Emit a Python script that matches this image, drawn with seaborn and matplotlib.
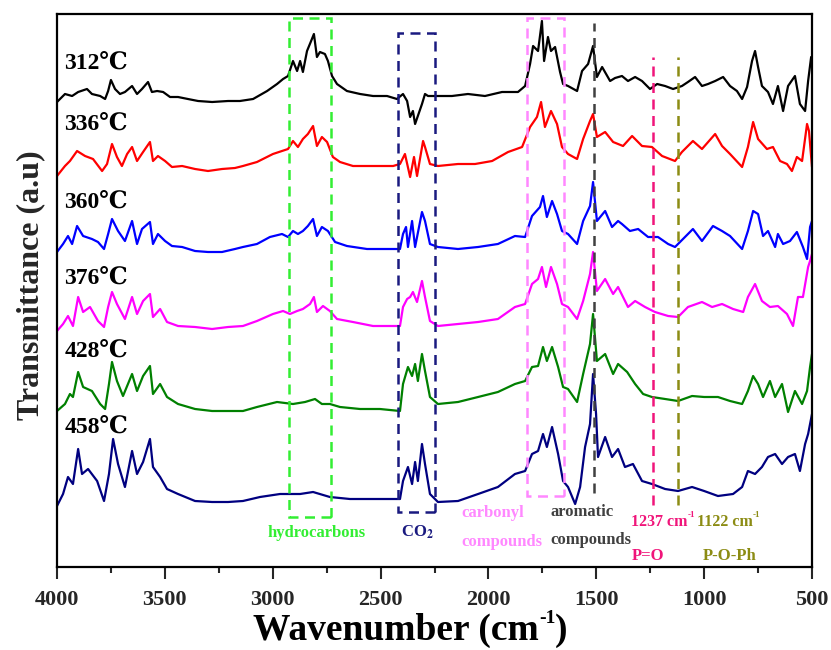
import numpy as np
import pandas as pd
import matplotlib
matplotlib.use("Agg")
import matplotlib.pyplot as plt
from matplotlib.patches import Rectangle
import seaborn as sns

# ---- FTIR spectra of evolved gases (relative transmittance, a.u.) ----
temps = ["312℃", "336℃", "360℃", "376℃", "428℃", "458℃"]
colors = ["#000000", "#ff0000", "#0000ff", "#ff00ff", "#008000", "#000080"]

wn_312 = [4000, 3963, 3930, 3902, 3861, 3838, 3800, 3777, 3763, 3750, 3731, 3708, 3685, 3652, 3629,
          3606, 3578, 3560, 3536, 3508, 3476, 3439, 3393, 3346, 3281, 3207, 3152, 3091, 3026, 2980,
          2952, 2929, 2906, 2887, 2873, 2860, 2841, 2822, 2809, 2795, 2781, 2758, 2744, 2725, 2702,
          2656, 2595, 2535, 2470, 2424, 2396, 2377, 2363, 2350, 2340, 2308, 2294, 2280, 2248, 2169,
          2095, 2016, 1937, 1863, 1830, 1807, 1793, 1770, 1752, 1742, 1724, 1710, 1691, 1668, 1654,
          1631, 1589, 1566, 1538, 1515, 1497, 1473, 1436, 1413, 1381, 1353, 1320, 1288, 1251, 1218,
          1181, 1144, 1103, 1075, 1042, 1010, 982, 949, 912, 880, 848, 824, 801, 778, 764,
          750, 732, 704, 681, 658, 634, 611, 579, 556, 532, 518, 504, 500]
tr_312 = [-2, 6, 4, 8, 11, 6, 4, 1, 9, 20, 11, 6, 8, 14, 6,
          11, 18, 8, 9, 8, 3, 3, 1, -1, -2, -1, -1, 1, 9, 16,
          21, 24, 39, 29, 39, 28, 49, 59, 66, 43, 48, 46, 39, 24, 16,
          9, 6, 4, 4, 1, 6, -1, -17, -11, -24, -4, 6, 4, 4, 4,
          6, 4, 8, 8, 14, 36, 54, 49, 79, 39, 63, 49, 53, 28, 16,
          14, 9, 29, 36, 54, 23, 33, 19, 22, 24, 19, 23, 19, 11, 16,
          14, 11, 14, 18, 23, 14, 16, 19, 23, 14, 9, 1, 13, 39, 49,
          33, 14, 8, -4, 14, -11, 14, 24, -4, -11, 19, 43, 43]

wn_336 = [4000, 3963, 3940, 3907, 3870, 3833, 3791, 3768, 3745, 3722, 3699, 3675, 3652, 3629, 3601,
          3569, 3555, 3532, 3499, 3467, 3420, 3360, 3300, 3235, 3175, 3138, 3073, 2999, 2929, 2906,
          2883, 2860, 2837, 2813, 2795, 2772, 2748, 2721, 2688, 2628, 2535, 2442, 2410, 2387, 2363,
          2345, 2331, 2303, 2294, 2271, 2234, 2141, 2062, 1983, 1909, 1844, 1807, 1775, 1756, 1738,
          1710, 1682, 1659, 1631, 1589, 1561, 1529, 1515, 1497, 1459, 1422, 1376, 1334, 1288, 1242,
          1195, 1135, 1103, 1052, 1010, 949, 917, 880, 824, 797, 773, 750, 709, 681, 648,
          616, 593, 570, 546, 523, 514, 500]
tr_336 = [-8, 2, 7, 17, 12, 9, -3, 4, 24, 11, 2, 14, 21, 7, 16,
          26, 7, 12, 7, 1, 2, -1, -3, -1, 0, 2, 6, 14, 19, 27,
          21, 29, 34, 42, 22, 31, 26, 11, 6, 2, 2, 2, 4, 14, -9,
          11, -8, 27, 21, 4, 2, 4, 4, 7, 16, 21, 41, 51, 66, 41,
          57, 44, 21, 14, 9, 29, 47, 54, 31, 36, 26, 22, 32, 22, 21,
          12, 7, 16, 27, 19, 34, 22, 14, 1, 21, 46, 29, 19, 21, 7,
          4, -3, 11, 7, 44, 37, 1]

wn_360 = [4000, 3972, 3949, 3930, 3907, 3879, 3838, 3810, 3782, 3763, 3745, 3717, 3685, 3652, 3629,
          3606, 3569, 3555, 3532, 3499, 3467, 3420, 3360, 3300, 3235, 3175, 3138, 3073, 3013, 2957,
          2929, 2906, 2883, 2860, 2837, 2813, 2795, 2772, 2744, 2711, 2656, 2563, 2470, 2410, 2396,
          2382, 2373, 2354, 2340, 2308, 2294, 2271, 2234, 2141, 2048, 1956, 1877, 1830, 1798, 1761,
          1747, 1729, 1705, 1682, 1659, 1631, 1589, 1561, 1529, 1515, 1497, 1459, 1427, 1399, 1381,
          1344, 1306, 1260, 1214, 1167, 1135, 1098, 1052, 1010, 959, 917, 880, 824, 797, 773,
          750, 727, 704, 671, 658, 634, 602, 570, 542, 523, 509, 500]
tr_360 = [-2, 6, 14, 6, 24, 14, 11, 8, 1, 16, 31, 19, 9, 29, 6,
          21, 28, 6, 16, 9, 4, 3, -1, -2, -2, 1, 3, 6, 13, 16,
          13, 19, 16, 19, 24, 31, 14, 23, 19, 8, 4, 1, 1, 1, 16,
          23, 3, 29, 3, 38, 29, 6, 3, 1, 3, 6, 14, 13, 34, 43,
          54, 33, 49, 36, 19, 16, 6, 29, 44, 68, 29, 39, 23, 29, 26,
          19, 21, 13, 13, 6, 3, 11, 21, 9, 24, 19, 14, 1, 19, 39,
          36, 14, 19, 3, 16, 6, 9, 18, 3, -9, 23, 29]

wn_376 = [4000, 3972, 3949, 3926, 3902, 3879, 3847, 3810, 3782, 3763, 3745, 3722, 3685, 3652, 3629,
          3601, 3569, 3555, 3522, 3490, 3439, 3360, 3281, 3207, 3138, 3073, 2999, 2952, 2920, 2887,
          2860, 2827, 2809, 2795, 2767, 2735, 2702, 2628, 2535, 2442, 2410, 2396, 2377, 2363, 2350,
          2331, 2308, 2294, 2271, 2234, 2141, 2048, 1956, 1877, 1830, 1798, 1770, 1752, 1733, 1710,
          1682, 1659, 1631, 1589, 1561, 1529, 1515, 1497, 1459, 1422, 1399, 1353, 1320, 1274, 1228,
          1167, 1121, 1075, 1010, 963, 917, 866, 819, 797, 764, 732, 695, 658, 616, 588,
          565, 542, 518, 509, 500]
tr_376 = [-4, 3, 11, 1, 30, 15, 20, 6, 0, 20, 35, 23, 8, 30, 13,
          26, 33, 10, 18, 5, 1, 0, -2, 0, 1, 6, 13, 16, 13, 16,
          18, 23, 30, 15, 21, 16, 8, 5, 1, 1, 1, 20, 28, 30, 35,
          25, 46, 30, 6, 1, 3, 5, 8, 20, 23, 43, 48, 60, 40, 60,
          43, 23, 20, 8, 26, 53, 75, 36, 48, 33, 40, 20, 26, 20, 15,
          11, 10, 20, 25, 20, 23, 18, 15, 30, 43, 26, 20, 21, 13, 1,
          30, 30, 60, 66, 73]

wn_428 = [4000, 3963, 3940, 3926, 3902, 3879, 3838, 3800, 3777, 3759, 3745, 3722, 3694, 3652, 3629,
          3601, 3569, 3555, 3522, 3490, 3439, 3360, 3281, 3207, 3138, 3073, 2980, 2906, 2850, 2804,
          2772, 2735, 2688, 2595, 2503, 2410, 2396, 2373, 2354, 2340, 2327, 2308, 2294, 2271, 2234,
          2141, 2048, 1956, 1877, 1830, 1798, 1770, 1747, 1729, 1705, 1677, 1654, 1631, 1589, 1561,
          1529, 1515, 1497, 1459, 1422, 1399, 1357, 1320, 1283, 1242, 1181, 1121, 1056, 1000, 936,
          880, 824, 797, 773, 750, 727, 695, 671, 639, 611, 579, 546, 523, 509, 500]
tr_428 = [-1, 6, 16, 13, 38, 23, 19, 6, 1, 26, 48, 29, 14, 36, 19,
          34, 44, 16, 26, 13, 6, 1, -1, -1, -1, 3, 8, 6, 8, 11,
          6, 6, 3, 1, 1, -1, 26, 43, 34, 46, 29, 56, 39, 13, 6,
          8, 13, 18, 26, 29, 43, 44, 63, 49, 63, 43, 23, 21, 8, 36,
          66, 96, 49, 56, 36, 46, 38, 26, 16, 13, 11, 9, 14, 13, 13,
          9, 6, 19, 34, 26, 13, 29, 13, 26, -2, 19, 6, 19, 43, 56]

wn_458 = [4000, 3972, 3949, 3926, 3902, 3884, 3856, 3814, 3782, 3759, 3740, 3717, 3685, 3652, 3629,
          3601, 3569, 3555, 3522, 3490, 3439, 3360, 3281, 3207, 3138, 3059, 2966, 2873, 2813, 2735,
          2642, 2535, 2410, 2396, 2373, 2354, 2340, 2327, 2308, 2294, 2271, 2234, 2141, 2048, 1956,
          1877, 1830, 1798, 1770, 1747, 1729, 1705, 1677, 1654, 1631, 1598, 1575, 1552, 1529, 1515,
          1501, 1492, 1459, 1427, 1399, 1367, 1330, 1288, 1242, 1181, 1121, 1056, 1000, 936, 866,
          824, 797, 764, 732, 704, 671, 639, 611, 579, 556, 532, 518, 500]
tr_458 = [-6, 6, 23, 16, 51, 26, 31, 19, -1, 26, 61, 36, 13, 49, 26,
          38, 61, 33, 23, 11, 6, -1, -2, -2, -1, 3, 6, 6, 8, 3,
          1, 1, 1, 19, 33, 16, 38, 19, 56, 36, 6, -2, -1, 6, 13,
          26, 29, 46, 49, 66, 53, 73, 46, 19, 13, -4, 13, 53, 76, 126,
          86, 43, 63, 43, 51, 33, 36, 19, 16, 11, 9, 13, 9, 4, 6,
          13, 29, 26, 33, 43, 46, 36, 43, 46, 29, 56, 66, 86]

wavenumbers = [wn_312, wn_336, wn_360, wn_376, wn_428, wn_458]
transmittance = [tr_312, tr_336, tr_360, tr_376, tr_428, tr_458]

# vertical stacking of the spectra and label heights
offsets = [467, 399, 317, 240, 157, 67]
label_y = [504, 443, 365, 289, 216, 140]

frames = []
for t, w, v, off in zip(temps, wavenumbers, transmittance, offsets):
    frames.append(pd.DataFrame({"wavenumber": w, "signal": np.array(v) + off, "temp": t}))
df = pd.concat(frames, ignore_index=True)

sns.set_style("ticks")
plt.rcParams["font.family"] = ["Liberation Serif", "DejaVu Serif"]
plt.rcParams["mathtext.fontset"] = "stix"

fig = plt.figure(figsize=(8.31, 6.50), dpi=100)
ax = fig.add_axes([57 / 831, 83 / 650, 755 / 831, 553 / 650])

sns.lineplot(data=df, x="wavenumber", y="signal", hue="temp", palette=colors,
             hue_order=temps, estimator=None, sort=False, linewidth=1.6,
             legend=False, ax=ax)

ax.set_xlim(4000, 500)
ax.set_ylim(0, 553)
ax.set_xlabel("")

# temperature labels
for t, y in zip(temps, label_y):
    ax.text(3965, y, t, ha="left", va="center", fontsize=17, fontweight="bold", color="black")

# dashed band markers
dash = (0, (4, 2.6))
boxes = [
    (2925, 2730, 50, 549, "#33ee33"),
    (2419, 2248, 55, 534, "#1a1a80"),
    (1821, 1650, 71, 549, "#ff88ff"),
]
for x0, x1, y0, y1, c in boxes:
    ax.add_patch(Rectangle((x1, y0), x0 - x1, y1 - y0, fill=False, edgecolor=c,
                           linewidth=1.8, linestyle=dash, zorder=3))

vlines = [
    (1510, 74, 544, "#404040"),
    (1237, 62, 510, "#f0157a"),
    (1122, 62, 510, "#8c8c14"),
]
for x, y0, y1, c in vlines:
    ax.plot([x, x], [y0, y1], color=c, linewidth=1.8, linestyle=dash, zorder=3)


def sup_text(base, sup, tail, x, y, size, color, transform, sup_size, rise=0.78):
    """Text with a small raised suffix, e.g. 'cm' followed by '-1'."""
    t0 = ax.text(x, y, base, transform=transform, fontsize=size, fontweight="bold",
                 color=color, ha="left", va="baseline")
    t1 = ax.annotate(sup, xy=(1.0, rise), xycoords=t0, fontsize=sup_size,
                     fontweight="bold", color=color, ha="left", va="center",
                     annotation_clip=False)
    if tail:
        ax.annotate(tail, xy=(1.0, 0.0), xycoords=(t1, t0), fontsize=size,
                    fontweight="bold", color=color, ha="left", va="bottom",
                    annotation_clip=False)
    return t0


# band annotations
ann = dict(fontsize=12, fontweight="bold")
ax.text(2795, 34, "hydrocarbons", color="#33ee33", ha="center", va="center", **ann)
ax.text(2331, 35, r"CO$_\mathbf{2}$", color="#1a1a80", ha="center", va="center", **ann)
ax.text(1979, 54, "carbonyl", color="#ff88ff", ha="center", va="center", **ann)
ax.text(1937, 25, "compounds", color="#ff88ff", ha="center", va="center", **ann)
ax.text(1566, 55, "aromatic", color="#404040", ha="center", va="center", **ann)
ax.text(1524, 27, "compounds", color="#404040", ha="center", va="center", **ann)
sup_text("1237 cm", "-1", None, 1340, 41, 11.5, "#f0157a", ax.transData, 6.5, rise=0.95)
sup_text("1122 cm", "-1", None, 1032, 41, 11.5, "#8c8c14", ax.transData, 6.5, rise=0.95)
ax.text(1334, 11, "P=O", color="#f0157a", ha="left", va="center", **ann)
ax.text(1005, 11, "P-O-Ph", color="#8c8c14", ha="left", va="center", **ann)

# axes styling
for s in ax.spines.values():
    s.set_visible(True)
    s.set_linewidth(1.6)
    s.set_color("black")
ax.set_xticks(np.arange(4000, 499, -500))
ax.set_xticks(np.arange(3750, 500, -500), minor=True)
ax.set_yticks([])
ax.tick_params(axis="x", which="major", direction="out", length=8.5, width=1.5,
               labelsize=16, pad=8)
ax.tick_params(axis="x", which="minor", direction="out", length=4.5, width=1.5)
for lbl in ax.get_xticklabels():
    lbl.set_fontweight("bold")

# x-axis title drawn as text pieces so the exponent stays small
sup_text("Wavenumber (cm", "-1", ")", 253 / 831, 10 / 650, 27, "black",
         fig.transFigure, 14, rise=0.85)
ax.set_ylabel("Transmittance (a.u)", fontsize=23, fontweight="bold")
ax.yaxis.set_label_coords(-0.016, 0.51)

fig.savefig("out.png", dpi=100)
